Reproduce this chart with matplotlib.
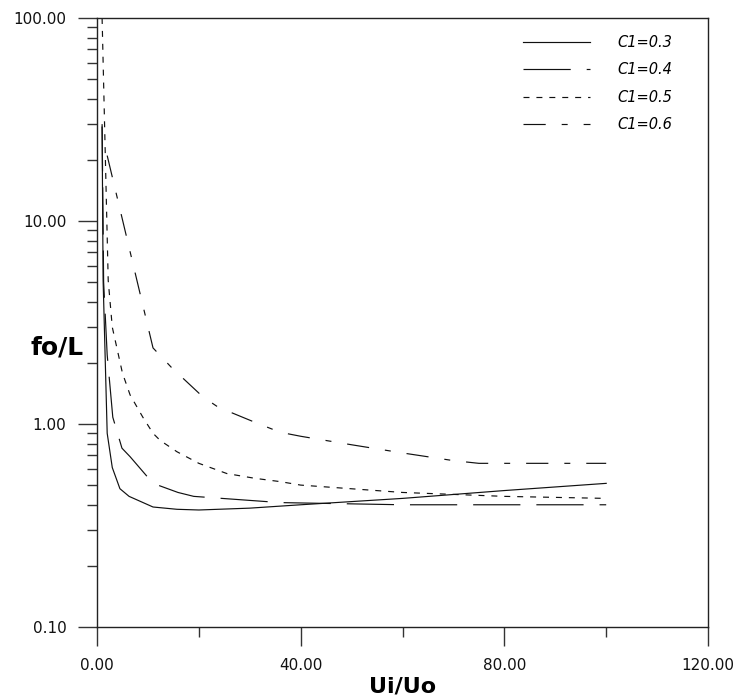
"""fo/L against Ui/Uo for four C1 values, log y axis."""

import matplotlib

matplotlib.use("Agg")
import matplotlib.pyplot as plt
from matplotlib.ticker import FixedLocator, FormatStrFormatter, LogLocator, NullFormatter

# values
labels = ["C1=0.3", "C1=0.4", "C1=0.5", "C1=0.6"]

x_c03 = [1, 1.2, 2, 3, 4.5, 6.3, 11, 15.7, 20, 30, 40, 60, 80, 100]
y_c03 = [29, 5.1, 0.90, 0.61, 0.48, 0.44, 0.39, 0.38, 0.377, 0.385, 0.40, 0.43, 0.47, 0.51]

x_c04 = [1, 1.3, 2, 3.1, 4.9, 6.5, 11, 15.9, 19, 36, 60, 100]
y_c04 = [30, 5.0, 2.19, 1.08, 0.76, 0.69, 0.51, 0.46, 0.44, 0.41, 0.40, 0.40]

x_c05 = [1, 2.2, 3, 5, 6.5, 9, 11, 12.4, 15.7, 20, 25.5, 31, 36, 40, 60, 80, 100]
y_c05 = [100, 5.1, 3.0, 1.78, 1.39, 1.08, 0.90, 0.83, 0.73, 0.64, 0.57, 0.54, 0.52, 0.50, 0.46, 0.44, 0.43]

x_c06 = [2, 11, 14.7, 20.8, 23.8, 31.4, 36, 40, 50, 60, 70, 75, 100]
y_c06 = [21, 2.37, 1.89, 1.36, 1.21, 1.01, 0.91, 0.87, 0.79, 0.72, 0.66, 0.64, 0.64]

x_ticks = [0, 40, 80, 120]
y_ticks = [0.1, 1, 10, 100]

plt.rcParams["font.family"] = ["DejaVu Sans"]
plt.rcParams["lines.scale_dashes"] = False

fig = plt.figure(figsize=(7.36, 7.0), dpi=100)
ax = fig.add_axes([0.1318, 0.1043, 0.8302, 0.87])

ink = "#111111"
lw = 0.85
ax.plot(x_c03, y_c03, color=ink, lw=lw, label=labels[0])
ax.plot(x_c04, y_c04, color=ink, lw=lw, dashes=(34, 11.5), label=labels[1])
ax.plot(x_c05, y_c05, color=ink, lw=lw, dashes=(4.3, 5), label=labels[2])
ax.plot(x_c06, y_c06, color=ink, lw=lw, dashes=(16, 11.5, 4.3, 11.5), label=labels[3])

ax.set_yscale("log")
ax.set_xlim(0, 120)
ax.set_ylim(0.1, 100)

ax.xaxis.set_major_locator(FixedLocator(x_ticks))
ax.xaxis.set_minor_locator(FixedLocator([20, 60, 100]))
ax.xaxis.set_major_formatter(FormatStrFormatter("%.2f"))
ax.yaxis.set_major_locator(FixedLocator(y_ticks))
ax.yaxis.set_minor_locator(LogLocator(base=10, subs=range(2, 10)))
ax.yaxis.set_major_formatter(FormatStrFormatter("%.2f"))
ax.yaxis.set_minor_formatter(NullFormatter())

ax.tick_params(which="major", direction="out", length=14, width=1.0, color="#333333",
               labelsize=11, pad=8, labelcolor="#111111")
ax.tick_params(which="minor", direction="out", length=7.5, width=1.0, color="#333333")
ax.tick_params(top=False, right=False, which="both")
for side in ("left", "bottom", "top", "right"):
    ax.spines[side].set_linewidth(1.0)
    ax.spines[side].set_color("#222222")

ax.set_xlabel("Ui/Uo", fontsize=16, fontweight="bold", labelpad=3)
ax.set_ylabel("fo/L", fontsize=18, fontweight="bold", rotation=0, labelpad=0)
ax.yaxis.set_label_coords(-0.065, 0.44)

ax.legend(loc="upper left", bbox_to_anchor=(0.697, 0.972), frameon=False,
          prop={"size": 10.5, "style": "italic"}, handlelength=4.6, handletextpad=1.85,
          labelspacing=0.85, borderpad=0, borderaxespad=0)

fig.savefig("out.png", dpi=100)
